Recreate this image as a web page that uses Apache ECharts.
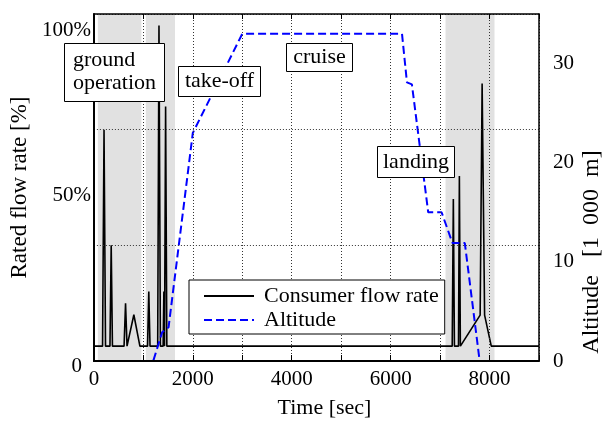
<!DOCTYPE html>
<html>
<head>
<meta charset="utf-8">
<script src="https://cdn.jsdelivr.net/npm/echarts@6/dist/echarts.min.js"></script>
<style>html,body{margin:0;padding:0;background:#fff}#c{width:603px;height:424px}</style>
</head>
<body>
<div id="c"></div>
<script>
// ---- data ----
const flowTime = [0, 175, 205, 235, 325, 350, 375, 610, 640, 670, 808, 930, 1085, 1110, 1135, 1290, 1316, 1345, 1400, 1415, 1428, 1450, 1475, 7245, 7268, 7290, 7372, 7390, 7410, 7810, 7850, 7900, 8035, 9000];
const flowRate = [4.5, 4.5, 70, 4.5, 4.5, 35, 4.5, 4.5, 17.5, 4.5, 14, 4.5, 4.5, 21, 4.5, 4.5, 101.5, 4.5, 4.5, 21, 4.5, 77, 4.5, 4.5, 49, 4.5, 4.5, 56, 4.5, 13.9, 84, 13.9, 4.5, 4.5];
const altTime = [0, 1200, 1380, 1510, 2000, 3000, 6230, 6330, 6430, 6760, 7030, 7250, 7500, 7800, 9000];
const altitude = [0, 0, 2.9, 3.4, 23, 33, 33, 28.1, 27.9, 15, 15, 11.9, 11.9, 0, 0];
const phaseStart = [80, 1050, 7110];
const phaseEnd = [960, 1640, 8100];
const timeTicks = [0, 2000, 4000, 6000, 8000];
const flowTicks = [0, 50, 100];
const altTicks = [0, 10, 20, 30];
const seriesNames = ['Consumer flow rate', 'Altitude'];

const FF = '"Liberation Serif", "Times New Roman", serif';
const chart = echarts.init(document.getElementById('c'), null, {renderer: 'canvas'});

const flowData = flowTime.map((t, i) => [t, flowRate[i]]);
const altData = altTime.map((t, i) => [t, altitude[i]]);
const areas = phaseStart.map((s, i) => [{xAxis: s}, {xAxis: phaseEnd[i]}]);

const gridLine = {show: true, lineStyle: {color: '#333', type: [1, 2], width: 1}};

const option = {
  animation: false,
  backgroundColor: '#fff',
  grid: {left: 91, right: 64, top: 14, bottom: 57, containLabel: false},
  xAxis: [
    {
      type: 'value', min: 0, max: 9000, interval: 1000, position: 'bottom', z: 3,
      name: 'Time [sec]', nameLocation: 'middle', nameGap: 36,
      nameTextStyle: {fontFamily: FF, fontSize: 22, color: '#000', padding: [0, 0, 0, 16]},
      axisLine: {show: true, onZero: false, lineStyle: {color: '#000', width: 2}},
      axisTick: {show: true, inside: true, length: 6, lineStyle: {color: '#000', width: 1}},
      axisLabel: {customValues: timeTicks, fontFamily: FF, fontSize: 21, color: '#000', margin: 8,
        formatter: v => String(v)},
      splitLine: gridLine
    },
    {
      type: 'value', min: 0, max: 9000, interval: 1000, position: 'top', z: 3,
      axisLine: {show: true, onZero: false, lineStyle: {color: '#000', width: 1.5}},
      axisTick: {show: true, inside: true, length: 5, lineStyle: {color: '#000', width: 1}},
      axisLabel: {show: false},
      splitLine: {show: false}
    }
  ],
  yAxis: [
    {
      type: 'value', min: 0, max: 105, interval: 35, position: 'left', z: 3,
      name: 'Rated flow rate [%]', nameLocation: 'middle', nameGap: 52, nameRotate: 90,
      nameTextStyle: {fontFamily: FF, fontSize: 23, color: '#000'},
      axisLine: {show: true, onZero: false, lineStyle: {color: '#000', width: 2}},
      axisTick: {show: false},
      axisLabel: {
        customValues: flowTicks, fontFamily: FF, fontSize: 21, color: '#000', margin: 3,
        formatter: v => v === 0 ? '{z|0}' : v + '%',
        rich: {z: {fontFamily: FF, fontSize: 21, color: '#000', padding: [10, 9, 0, 0]}}
      },
      splitLine: gridLine
    },
    {
      type: 'value', min: 0, max: 35, interval: 10, position: 'right', z: 3,
      axisLine: {show: true, onZero: false, lineStyle: {color: '#000', width: 1.5}},
      axisTick: {show: false},
      axisLabel: {customValues: altTicks, fontFamily: FF, fontSize: 21, color: '#000', margin: 14,
        formatter: v => String(v)},
      splitLine: {show: false}
    }
  ],
  legend: {
    left: 189, top: 280, orient: 'vertical', data: seriesNames,
    itemWidth: 50, itemHeight: 14, itemGap: 2, padding: [5, 6, 3, 14],
    borderColor: '#000', borderWidth: 1, backgroundColor: '#fff', z: 100,
    itemStyle: {opacity: 0},
    textStyle: {fontFamily: FF, fontSize: 22, color: '#000', lineHeight: 20, padding: [0, 0, 0, 5]}
  },
  graphic: [
    {type: 'rect', z: 100, shape: {x: 64.5, y: 43.5, width: 100, height: 58}, style: {fill: '#fff', stroke: '#000', lineWidth: 1}},
    {type: 'text', z: 101, x: 73, y: 49, style: {text: 'ground\noperation', font: '22px ' + FF, fill: '#000', lineHeight: 23, textVerticalAlign: 'top'}},
    {type: 'rect', z: 100, shape: {x: 178.5, y: 66.5, width: 82, height: 30}, style: {fill: '#fff', stroke: '#000', lineWidth: 1}},
    {type: 'text', z: 101, x: 219.5, y: 81.5, style: {text: 'take-off', font: '22px ' + FF, fill: '#000', textAlign: 'center', textVerticalAlign: 'middle'}},
    {type: 'rect', z: 100, shape: {x: 286.5, y: 43.5, width: 66, height: 28}, style: {fill: '#fff', stroke: '#000', lineWidth: 1}},
    {type: 'text', z: 101, x: 319.5, y: 57.5, style: {text: 'cruise', font: '22px ' + FF, fill: '#000', textAlign: 'center', textVerticalAlign: 'middle'}},
    {type: 'rect', z: 100, shape: {x: 377.5, y: 146.5, width: 77, height: 31}, style: {fill: '#fff', stroke: '#000', lineWidth: 1}},
    {type: 'text', z: 101, x: 416, y: 162, style: {text: 'landing', font: '22px ' + FF, fill: '#000', textAlign: 'center', textVerticalAlign: 'middle'}},
    {type: 'text', z: 101, x: 592, y: 252, rotation: Math.PI / 2, style: {text: 'Altitude   [1  000  m]', font: '24px ' + FF, fill: '#000', textAlign: 'center', textVerticalAlign: 'middle'}}
  ],
  series: [
    {
      name: 'phases', type: 'line', data: [], z: 1, silent: true, xAxisIndex: 0, yAxisIndex: 0,
      markArea: {silent: true, itemStyle: {color: '#e1e1e1', opacity: 1}, data: areas}
    },
    {
      name: seriesNames[0], type: 'line', data: flowData, xAxisIndex: 0, yAxisIndex: 0, z: 2,
      symbol: 'none', lineStyle: {color: '#000', width: 1.6}, itemStyle: {color: '#000'}
    },
    {
      name: seriesNames[1], type: 'line', data: altData, xAxisIndex: 0, yAxisIndex: 1, z: 2,
      symbol: 'none', lineStyle: {color: '#0000ff', width: 2, type: [8, 4]}, itemStyle: {color: '#0000ff'}
    }
  ]
};
chart.setOption(option);
</script>
</body>
</html>
